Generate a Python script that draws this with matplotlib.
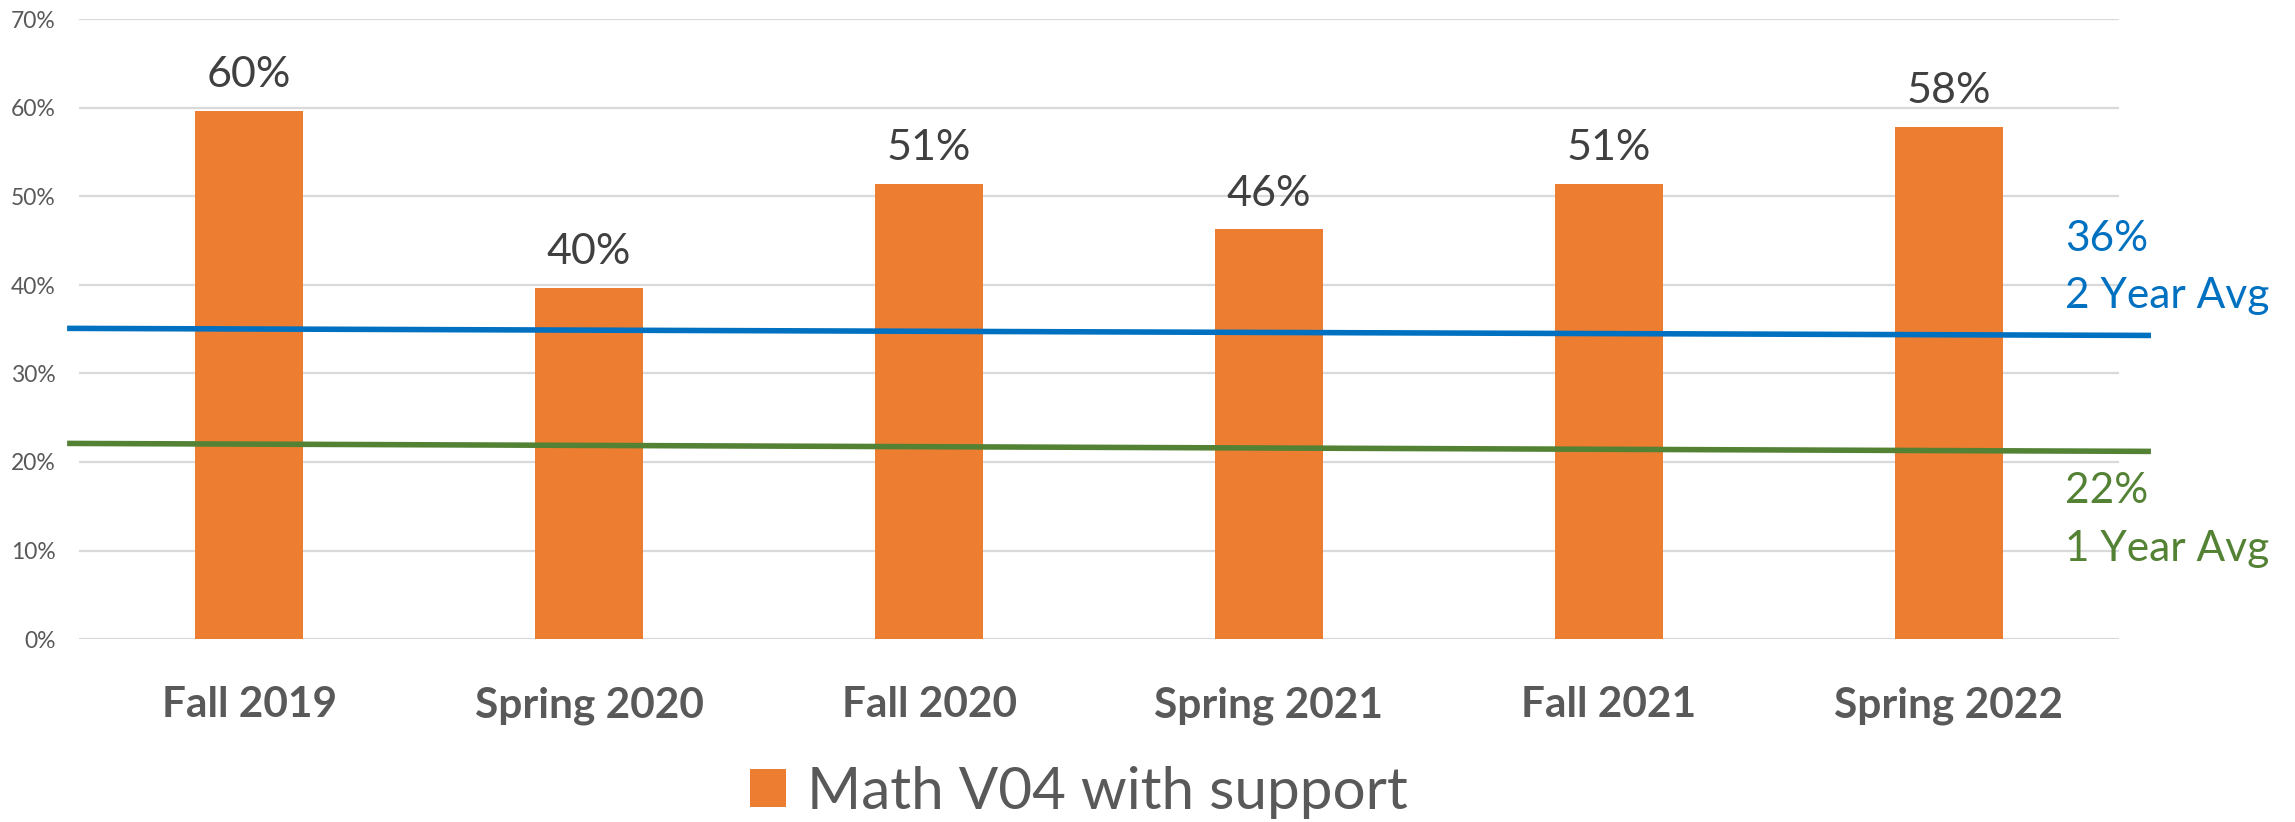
import matplotlib
matplotlib.use("Agg")
import matplotlib.pyplot as plt
from matplotlib.patches import Patch
from matplotlib.ticker import FuncFormatter

plt.rcParams['font.family'] = ['Lato', 'DejaVu Sans']

# ---- data ----
categories = ["Fall 2019", "Spring 2020", "Fall 2020", "Spring 2021", "Fall 2021", "Spring 2022"]
values = [0.597, 0.397, 0.514, 0.463, 0.514, 0.579]
value_labels = ["60%", "40%", "51%", "46%", "51%", "58%"]
series_name = "Math V04 with support"

two_year_avg_ends = [0.351, 0.343]   # trend line start / end
one_year_avg_ends = [0.221, 0.212]
two_year_label = ["36%", "2 Year Avg"]
one_year_label = ["22%", "1 Year Avg"]

yticks = [0, 0.1, 0.2, 0.3, 0.4, 0.5, 0.6, 0.7]

# ---- style ----
ORANGE = "#ED7D31"
BLUE = "#0070C0"
GREEN = "#548235"
GRAY = "#595959"
DARK = "#404040"
GRID = "#D9D9D9"

W, H = 2295, 822
fig = plt.figure(figsize=(W / 100, H / 100), dpi=100)
ax = fig.add_axes([79 / W, 183 / H, 2040 / W, 619.5 / H])

x = list(range(len(categories)))
ax.bar(x, values, width=0.318, color=ORANGE, zorder=2)

ax.set_xlim(-0.5, len(categories) - 0.5)
ax.set_ylim(0, 0.70)
ax.set_yticks(yticks)
ax.yaxis.set_major_formatter(FuncFormatter(lambda v, p: f"{v:.0%}"))
ax.grid(axis='y', color=GRID, linewidth=1.6, zorder=0)
ax.set_axisbelow(True)
for s in ax.spines.values():
    s.set_visible(False)
ax.tick_params(axis='y', length=0, pad=17, labelsize=16.5, labelcolor=GRAY)
ax.tick_params(axis='x', length=0, pad=34, labelsize=30.5, labelcolor=GRAY)
ax.set_xticks(x)
ax.set_xticklabels(categories, fontweight='bold')

# value labels
for xi, v, lab in zip(x, values, value_labels):
    ax.annotate(lab, (xi, v), xytext=(0, 17), textcoords='offset points',
                ha='center', va='baseline', fontsize=31, color=DARK)

# average trend lines
line_x = [-0.535, 5.594]
ax.plot(line_x, two_year_avg_ends, color=BLUE, linewidth=4.0, clip_on=False,
        zorder=3, solid_capstyle='butt')
ax.plot(line_x, one_year_avg_ends, color=GREEN, linewidth=4.0, clip_on=False,
        zorder=3, solid_capstyle='butt')

lab_x = 5.341
ax.text(lab_x, 0.4386, two_year_label[0], color=BLUE, fontsize=30.5, va='baseline', ha='left')
ax.text(lab_x, 0.3735, two_year_label[1], color=BLUE, fontsize=30.5, va='baseline', ha='left')
ax.text(lab_x, 0.1535, one_year_label[0], color=GREEN, fontsize=30.5, va='baseline', ha='left')
ax.text(lab_x, 0.0886, one_year_label[1], color=GREEN, fontsize=30.5, va='baseline', ha='left')

# legend
handle = Patch(facecolor=ORANGE, edgecolor='none')
leg = fig.legend([handle], [series_name], loc='center',
                 bbox_to_anchor=(1078.5 / W, (H - 792) / H),
                 frameon=False, fontsize=42, handlelength=0.62, handleheight=0.62,
                 handletextpad=0.36, borderpad=0, borderaxespad=0)
for t in leg.get_texts():
    t.set_color(GRAY)

fig.savefig("out.png", dpi=100)
